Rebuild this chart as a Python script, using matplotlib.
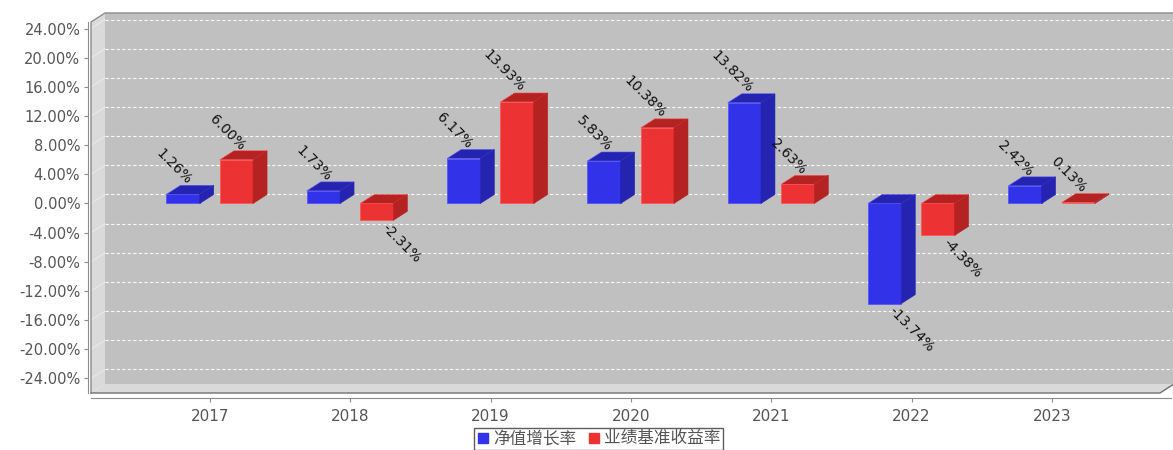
import matplotlib
matplotlib.use('Agg')
import matplotlib.pyplot as plt
from matplotlib.patches import Polygon
from matplotlib.lines import Line2D
import numpy as np

# ---- data ----
years = ['2017', '2018', '2019', '2020', '2021', '2022', '2023']
nav_growth = [1.26, 1.73, 6.17, 5.83, 13.82, -13.74, 2.42]
benchmark = [6.00, -2.31, 13.93, 10.38, 2.63, -4.38, 0.13]
series_names = ['净值增长率', '业绩基准收益率']
y_ticks = list(range(-24, 25, 4))

# ---- style ----
W, H, DPI = 1173, 450, 100
L, R, T, B = 91, 1160, 22, 393          # front plane in pixels
DX, DY = 14, 9                          # 3D depth in pixels
BW = 0.237
offsets = [-0.31, 0.07]
front_cols = ['#3232E8', '#EC3232']
dark_cols = ['#2424B0', '#B42222']
edge_cols = ['#5555FF', '#FF5555']

plt.rcParams['font.family'] = ['DejaVu Sans', 'Noto Sans CJK SC']

fig = plt.figure(figsize=(W / DPI, H / DPI), dpi=DPI)
ax = fig.add_axes([L / W, 1 - B / H, (R - L) / W, (B - T) / H])
x0, x1 = -0.848, 6.771
y0, y1 = -26.0, 24.9
ax.set_xlim(x0, x1)
ax.set_ylim(y0, y1)
ax.patch.set_visible(False)


def off(pts):
    pts = np.asarray(pts, dtype=float)
    d = ax.transData.transform(pts) + np.array([DX, DY])
    return ax.transData.inverted().transform(d)


def poly(pts, **kw):
    p = Polygon(pts, closed=True, clip_on=False, **kw)
    ax.add_patch(p)
    return p

# walls
back = [(x0, y0), (x1, y0), (x1, y1), (x0, y1)]
poly(off(back), facecolor='#C0C0C0', edgecolor='none', zorder=0)
left = [(x0, y0), (x0, y1)]
poly(np.vstack([left, off(left)[::-1]]), facecolor='#DADADA', edgecolor='none', zorder=0)
floor = [(x0, y0), (x1, y0)]
poly(np.vstack([floor, off(floor)[::-1]]), facecolor='#DADADA', edgecolor='none', zorder=0)

# gridlines on back wall and faint ones on left wall
for t in y_ticks:
    g = off([(x0, t), (x1, t)])
    ax.plot(g[:, 0], g[:, 1], color='white', lw=0.8, ls=(0, (3, 2)), alpha=0.9, zorder=1, clip_on=False)
    g2 = np.vstack([[(x0, t)], off([(x0, t)])])
    ax.plot(g2[:, 0], g2[:, 1], color='white', lw=0.8, alpha=0.4, zorder=1, clip_on=False)

# outline
o_front = np.array([(x0, y0), (x0, y1)])
o_back_top = off([(x0, y1), (x1, y1)])
outline = np.vstack([o_front, o_back_top])
ax.plot(outline[:, 0], outline[:, 1], color='#8C8C8C', lw=1.0, zorder=2, clip_on=False)
fl = np.vstack([[(x0, y0), (x1, y0)], off([(x1, y0)])])
ax.plot(fl[:, 0], fl[:, 1], color='#707070', lw=1.0, zorder=2, clip_on=False)

# bars
for s, vals in enumerate([nav_growth, benchmark]):
    xs = np.arange(len(years)) + offsets[s]
    ax.bar(xs, vals, width=BW, align='edge', color=front_cols[s],
           edgecolor=edge_cols[s], linewidth=0.6, zorder=3)
    for xl, v in zip(xs, vals):
        xr = xl + BW
        top = max(v, 0.0)
        tf = [(xl, top), (xr, top)]
        poly(np.vstack([tf, off(tf)[::-1]]), facecolor=dark_cols[s],
             edgecolor=edge_cols[s], linewidth=0.4, zorder=3)
        sf = [(xr, 0.0), (xr, v)]
        poly(np.vstack([sf, off(sf)[::-1]]), facecolor=dark_cols[s],
             edgecolor=dark_cols[s], linewidth=0.4, zorder=3)
        xc = xl + BW / 2
        if v >= 0:
            ax.annotate(f'{v:.2f}%', xy=(xc, v), xytext=(6, 12), textcoords='offset pixels',
                        rotation=-45, rotation_mode='anchor', ha='right', va='center',
                        fontsize=10, color='#111111', zorder=5, annotation_clip=False)
        else:
            ax.annotate(f'{v:.2f}%', xy=(xc, v), xytext=(7, -6), textcoords='offset pixels',
                        rotation=-45, rotation_mode='anchor', ha='left', va='center',
                        fontsize=10, color='#111111', zorder=5, annotation_clip=False)

# axes
for sp in ['top', 'right']:
    ax.spines[sp].set_visible(False)
ax.spines['left'].set_position(('outward', 2.2))
ax.spines['bottom'].set_position(('outward', 3.6))
ax.spines['left'].set_color('#8C8C8C')
ax.spines['bottom'].set_color('#8C8C8C')
ax.spines['bottom'].set_bounds(x0, x1 + (x1 - x0) * 11 / (R - L))
ax.set_yticks(y_ticks)
ax.set_yticklabels([f'{t:.2f}%' for t in y_ticks])
ax.set_xticks(range(len(years)))
ax.set_xticklabels(years)
ax.tick_params(axis='y', length=3, color='#8C8C8C', labelcolor='#555555', labelsize=10.5, pad=2.5)
ax.tick_params(axis='x', length=3, color='#8C8C8C', labelcolor='#555555', labelsize=11, pad=5)

handles = [Line2D([], [], marker='s', color=c, linestyle='None', markersize=7) for c in front_cols]
leg = fig.legend(handles, series_names, loc='upper center', bbox_to_anchor=(598.5 / W, 1 - 428 / H),
                 ncol=2, frameon=True, fancybox=False, edgecolor='#333333',
                 prop={'family': ['Noto Sans CJK SC', 'DejaVu Sans'], 'size': 12},
                 handletextpad=0.2, columnspacing=0.7, borderpad=0.15, handlelength=0.8,
                 borderaxespad=0)
leg.get_frame().set_linewidth(1.0)
for t in leg.get_texts():
    t.set_color('#555555')

fig.savefig('out.png', dpi=DPI)
